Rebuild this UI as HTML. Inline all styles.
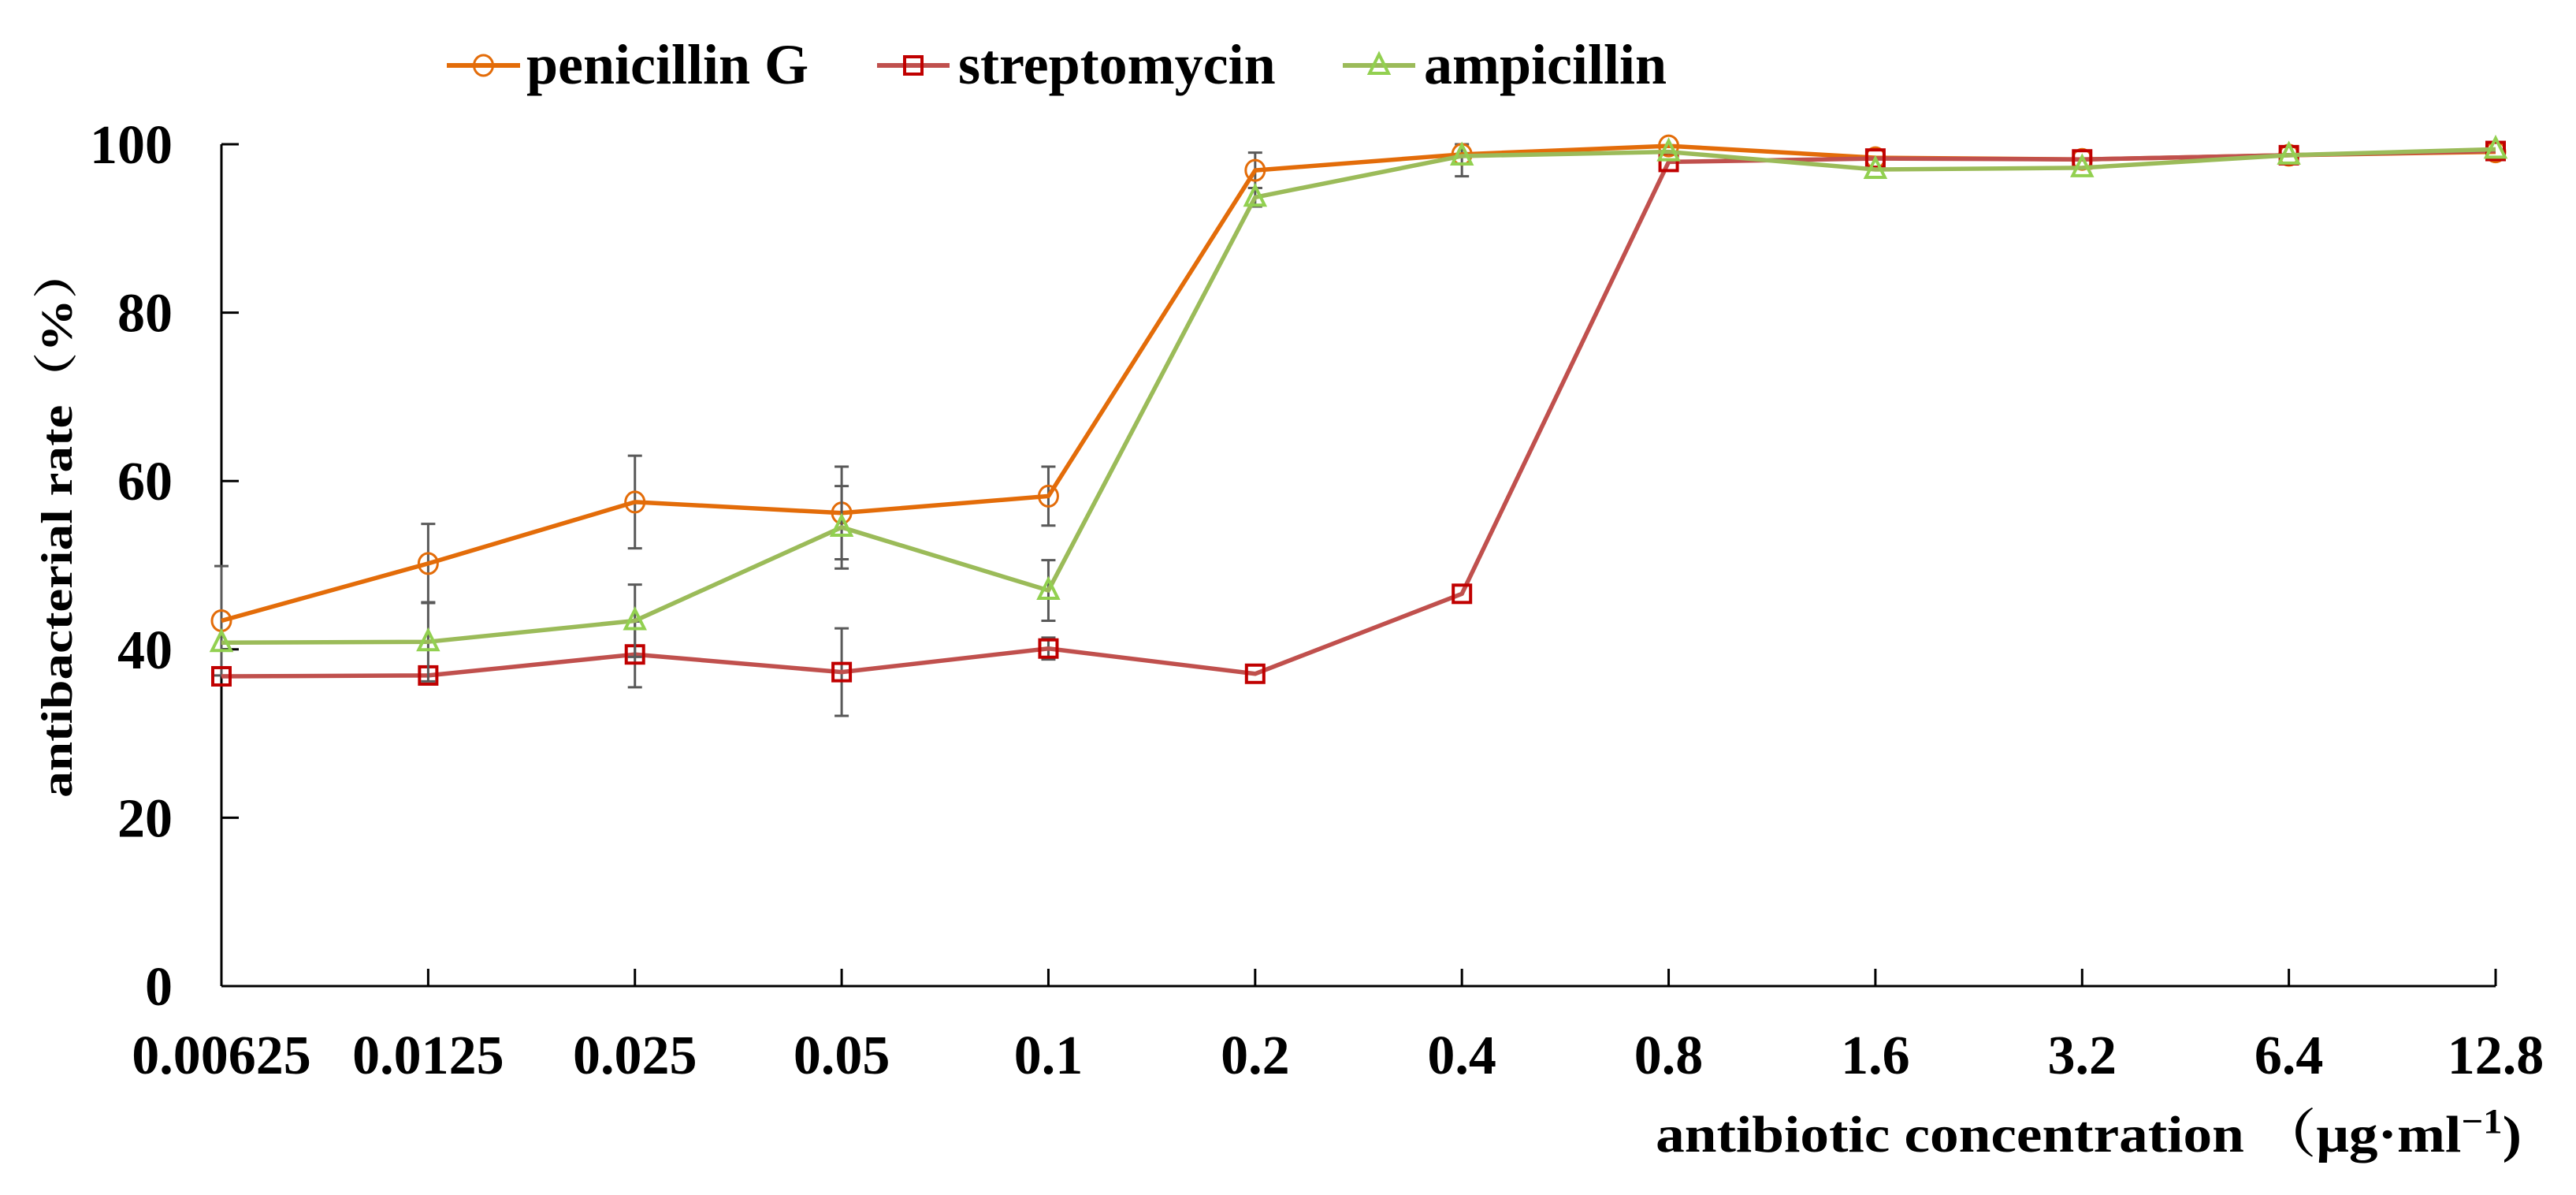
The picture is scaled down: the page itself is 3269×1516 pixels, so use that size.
<!DOCTYPE html>
<html><head><meta charset="utf-8"><style>
html,body{margin:0;padding:0;background:#fff;}
svg{display:block;}
text{font-family:"Liberation Serif","Noto Serif CJK SC",serif;font-weight:bold;fill:#000;}
</style></head><body>
<svg id="chart" width="3269" height="1516" viewBox="0 0 3269 1516" xmlns="http://www.w3.org/2000/svg">
  <g id="legend"></g>
  <g id="axes"></g>
  <g id="series"></g>
  <text transform="translate(91,662) rotate(-90) scale(1.2,1)" text-anchor="middle" font-size="56">antibacterial rate（%）</text>
  <text transform="translate(3200,1461) scale(1.11,1)" x="0" y="0" text-anchor="end" font-size="66">antibiotic concentration （μg·ml<tspan dy="-24" font-size="44">−1</tspan><tspan dy="24">)</tspan></text>
</svg>
<script>
const categories = ["0.00625","0.0125","0.025","0.05","0.1","0.2","0.4","0.8","1.6","3.2","6.4","12.8"];
const yTicks = [0,20,40,60,80,100];
const penicillinG = [43.4,50.2,57.5,56.2,58.2,96.9,98.8,99.8,98.4,98.2,98.7,99.1];
const penicillinErr = [6.5,4.7,5.5,5.5,3.5,2.1,2.6,0.4,0.4,0.3,0.3,0.3];
const streptomycin = [36.8,36.9,39.4,37.3,40.1,37.1,46.6,97.9,98.3,98.2,98.7,99.2];
const streptomycinErr = [0.5,0.5,3.9,5.2,1.3,0.6,0.5,0.5,0.4,0.3,0.3,0.3];
const ampicillin = [40.8,40.9,43.4,54.5,47.0,93.7,98.6,99.1,97.0,97.2,98.7,99.4];
const ampicillinErr = [0.5,4.7,4.3,4.9,3.6,1.1,0.5,0.4,0.4,0.3,0.3,0.3];

const NS="http://www.w3.org/2000/svg";
const X0=281, X1=3167, Y0=1251, Y100=183;
const xs=i=>X0+(X1-X0)*i/(categories.length-1);
const ys=v=>Y0-(Y0-Y100)*v/100;
function mk(tag,attrs,parent){const e=document.createElementNS(NS,tag);for(const k in attrs)e.setAttribute(k,attrs[k]);parent.appendChild(e);return e;}

const axes=document.getElementById('axes');
let yl=mk('line',{x1:X0,y1:Y100,x2:X0,y2:Y0,stroke:'#000','stroke-width':3},axes);


let xl=mk('line',{x1:X0,y1:Y0,x2:X1,y2:Y0,stroke:'#000','stroke-width':3},axes);


yTicks.forEach(v=>{
  const t=mk('line',{x1:X0,y1:ys(v),x2:X0+22,y2:ys(v),stroke:'#000','stroke-width':3},axes);
  
  
  const l=mk('text',{x:219,y:ys(v)+24,'text-anchor':'end','font-size':70},axes);
  
  
  l.textContent=v;
});
categories.forEach((c,i)=>{
  if(i>0){const t=mk('line',{x1:xs(i),y1:Y0,x2:xs(i),y2:Y0-22,stroke:'#000','stroke-width':3},axes);
  
  }
  const l=mk('text',{x:xs(i),y:1362,'text-anchor':'middle','font-size':70},axes);
  
  
  l.textContent=c;
});

const seriesG=document.getElementById('series');
const defs=[
  {name:'penicillin-g',data:penicillinG,err:penicillinErr,line:'#E36C09',mark:'#E36C09',shape:'circle'},
  {name:'streptomycin',data:streptomycin,err:streptomycinErr,line:'#C0504D',mark:'#C00000',shape:'square'},
  {name:'ampicillin',data:ampicillin,err:ampicillinErr,line:'#9BBB59',mark:'#92D050',shape:'triangle'}
];
function marker(shape,x,y,color,parent){
  let m;
  if(shape==='circle') m=mk('ellipse',{cx:x,cy:y,rx:12,ry:13,fill:'none',stroke:color,'stroke-width':3},parent);
  else if(shape==='square') m=mk('rect',{x:x-11,y:y-11,width:22,height:22,fill:'none',stroke:color,'stroke-width':4},parent);
  else m=mk('polygon',{points:`${x},${y-14} ${x-12},${y+10} ${x+12},${y+10}`,fill:'none',stroke:color,'stroke-width':4},parent);
  return m;
}
defs.forEach(s=>{
  const g=mk('g',{},seriesG);
  
  
  s.data.forEach((v,i)=>{
    const e=s.err[i]; if(e<0.8) return;
    const x=xs(i),yt=ys(Math.min(100,v+e)),yb=ys(v-e);
    const eb=mk('path',{d:`M${x},${yt}V${yb}M${x-9},${yt}H${x+9}M${x-9},${yb}H${x+9}`,stroke:'#595959','stroke-width':3,fill:'none'},g);
    
    
  });
  const p=mk('polyline',{points:s.data.map((v,i)=>xs(i)+','+ys(v)).join(' '),fill:'none',stroke:s.line,'stroke-width':5.5,'stroke-linejoin':'round'},g);
  
  
  s.data.forEach((v,i)=>{
    const m=marker(s.shape,xs(i),ys(v),s.mark,g);
    
    
  });
});

const legend=document.getElementById('legend');
const legItems=[[567,660,668,'penicillin G'],[1113,1205,1216,'streptomycin'],[1704,1796,1807,'ampicillin']];
legItems.forEach((it,k)=>{
  const s=defs[k];
  const g=mk('g',{},legend);
  
  
  mk('line',{x1:it[0],y1:83,x2:it[1],y2:83,stroke:s.line,'stroke-width':6},g);
  marker(s.shape,(it[0]+it[1])/2,83,s.mark,g);
  const t=mk('text',{x:it[2],y:106,'font-size':72},g);
  
  
  t.textContent=it[3];
});
</script>
</body></html>
